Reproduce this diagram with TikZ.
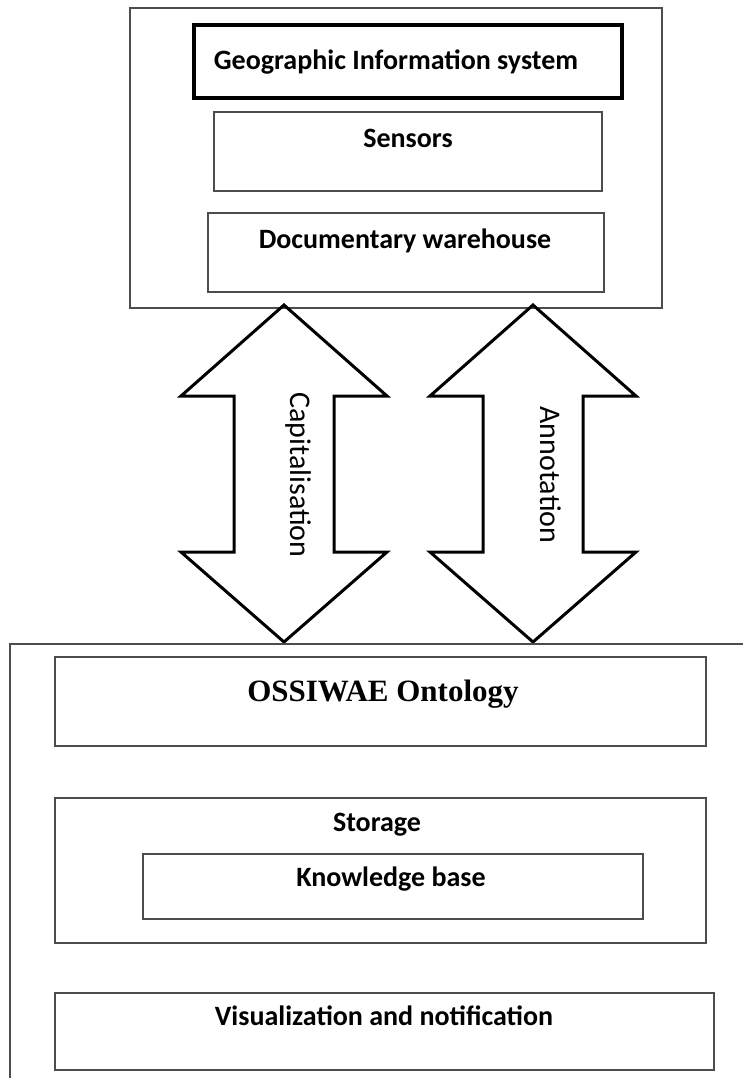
\documentclass[tikz,border=0pt]{standalone}
\usepackage{fontspec}
\setmainfont{Carlito}
\newfontfamily\serifbf{Liberation Serif}

\begin{document}
\begin{tikzpicture}[x=0.5pt,y=-0.5pt,
  box/.style={draw=black!70, line width=1pt},
  thickbox/.style={draw=black, line width=2.2pt},
  blockarrow/.style={draw=black, line width=1.5pt, line join=miter},
  lbl/.style={font=\fontsize{14}{16}\selectfont\bfseries, anchor=base},
  arrowlbl/.style={font=\fontsize{15}{17}\selectfont, rotate=-90}]
  \useasboundingbox (0,0) rectangle (743,1078);

  % Data sources on top
  \draw[box] (130,8) rectangle (662,308);
  \draw[thickbox] (194,25) rectangle (622,98);
  \draw[box] (214,112) rectangle (602,191);
  \draw[box] (208,213) rectangle (604,292);
  \node[lbl] (gis) at (396,69) {Geographic Information system};
  \node[lbl] (sensors) at (408,147) {Sensors};
  \node[lbl] (docs) at (405,248) {Documentary warehouse};

  % The two double arrows
  \foreach \cx/\tx/\name/\txt in {284/298/capi/Capitalisation, 533/551/anno/Annotation}{
    \draw[blockarrow] (\cx,305) -- (\cx+103,396) -- (\cx+50,396) -- (\cx+50,552)
      -- (\cx+103,552) -- (\cx,642) -- (\cx-103,552) -- (\cx-50,552)
      -- (\cx-50,396) -- (\cx-103,396) -- cycle;
    \node[arrowlbl] (\name) at (\tx,475) {\txt};
  }

  % The ontology side, open to the right and bottom
  \draw[box] (10,1078) -- (10,644) -- (743,644);
  \draw[box] (55,657) rectangle (706,746);
  \draw[box] (55,798) rectangle (706,943);
  \draw[box] (143,854) rectangle (643,919);
  \draw[box] (55,993) rectangle (714,1070);
  \node[lbl, font=\serifbf\fontsize{15.5}{17}\selectfont\bfseries] (onto) at (383,701) {OSSIWAE Ontology};
  \node[lbl] (storage) at (377,831) {Storage};
  \node[lbl] (kb) at (391,886) {Knowledge base};
  \node[lbl] (visu) at (384,1025) {Visualization and notification};
\end{tikzpicture}
\end{document}
